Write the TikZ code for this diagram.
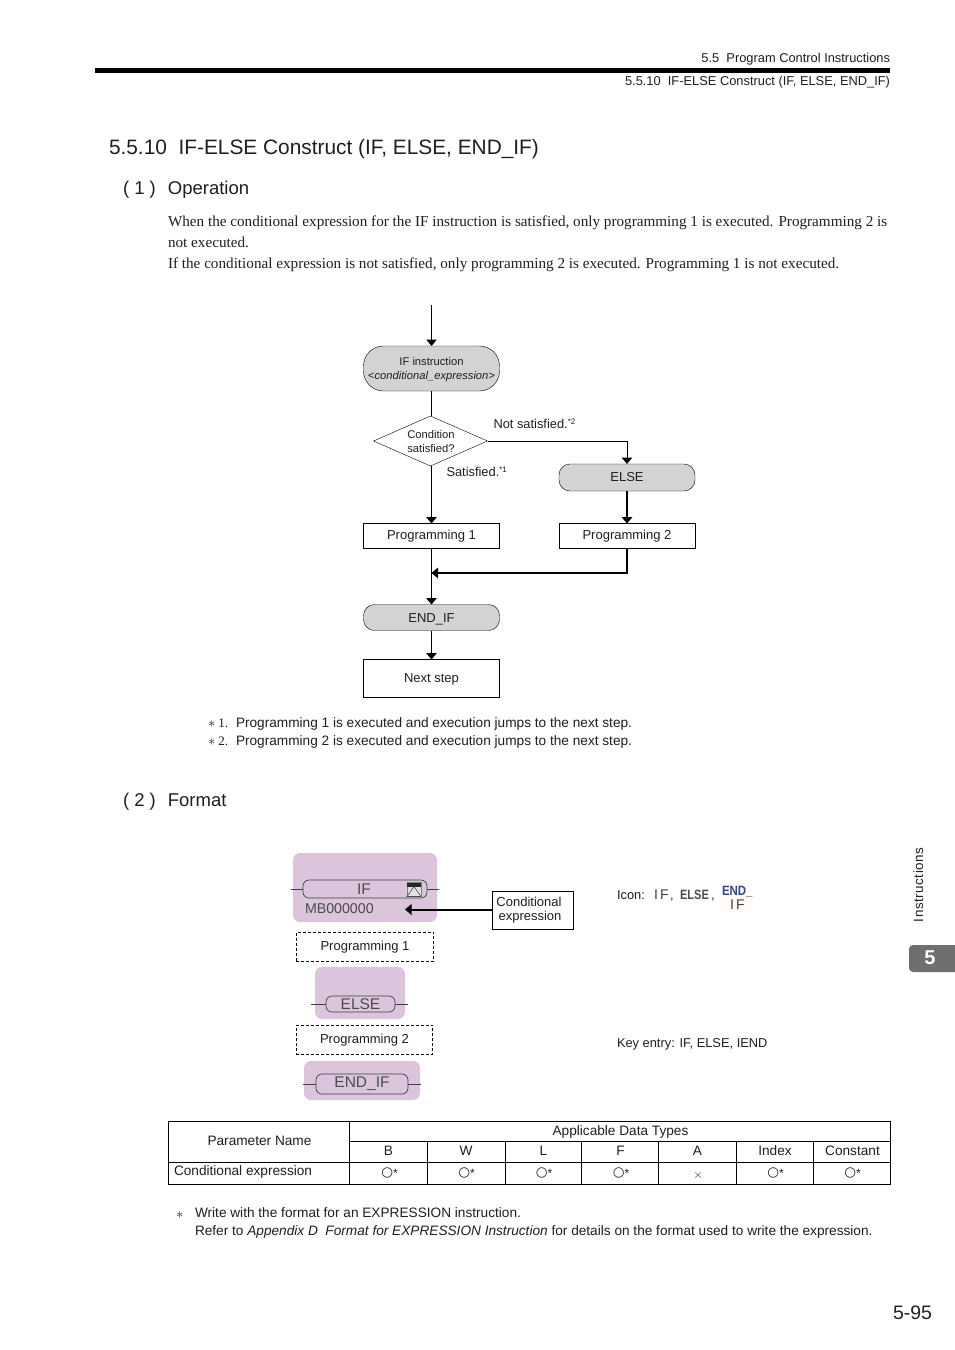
\documentclass[tikz,border=0pt]{standalone}
\usepackage{fontspec}
\setmainfont{Liberation Sans}
\newfontfamily\bodyserif{Liberation Serif}
\newfontfamily\symfont{DejaVu Sans}
\usetikzlibrary{arrows.meta, positioning, shapes.geometric}
\definecolor{pillgray}{HTML}{D2D3D5}
\definecolor{ladderpurple}{HTML}{DAC5DC}
\definecolor{tabgray}{HTML}{6E6F71}
\definecolor{iconblue}{HTML}{33478F}
\newcommand{\fsize}[1]{\fontsize{#1}{#1}\selectfont}
\newcommand{\okmark}{{\symfont\fsize{13.5}○}{\fsize{12}\raisebox{-1pt}{*}}}
\tikzset{%
	every node/.style={inner sep=0pt, outer sep=0pt, text=black!88},
	txt/.style={anchor=base west, font=\fsize{12.85}},
	note/.style={anchor=base west, font=\fsize{13.65}},
	flow/.style={font=\fsize{13}, align=center},
	pill/.style={flow, draw, fill=pillgray, rounded corners=#1},
	flowbox/.style={flow, draw, fill=white},
	dashbox/.style={flow, draw, dashed, dash pattern=on 3pt off 2pt, line width=0.6pt},
	ladder/.style={fill=ladderpurple, rounded corners=7pt},
	rung/.style={draw=black!75, fill=ladderpurple, rounded corners=6pt, line width=0.7pt, font=\fsize{15.5}, text=black!70},
	wire/.style={draw=black!75, line width=0.7pt},
	arr/.style={draw=black, line width=1pt, -{Triangle[length=6.5pt,width=10.5pt]}},
	arrbold/.style={draw=black, line width=2pt, -{Triangle[length=6.5pt,width=10.5pt]}},
	cell/.style={font=\fsize{13.65}, anchor=base},
}

\begin{document}
\begin{tikzpicture}[x=1pt, y=-1pt]
	\useasboundingbox (0,0) rectangle (954,1350);
	\fill[white] (0,0) rectangle (954,1350);

	% Page head
	\node[txt, anchor=base east] (headA) at (890,62) {5.5\ \ Program Control Instructions};
	\fill[black] (95,68) rectangle (890,73);
	\node[txt, anchor=base east] (headB) at (890,85) {5.5.10\ \ IF-ELSE Construct (IF, ELSE, END\_IF)};
	\node[txt, font=\fsize{20.85}] (title) at (109,154) {5.5.10\ \ IF-ELSE Construct (IF, ELSE, END\_IF)};
	\node[txt, font=\fsize{18.5}] (opHead) at (123,194) {( 1 )\hspace{12pt}Operation};
	\node[txt, font=\bodyserif\fsize{15.18}] (paraA) at (168,226) {When the conditional expression for the IF instruction is satisfied, only programming 1 is executed. Programming 2 is};
	\node[txt, font=\bodyserif\fsize{15.18}] (paraB) at (168,247) {not executed.};
	\node[txt, font=\bodyserif\fsize{15.18}] (paraC) at (168,268) {If the conditional expression is not satisfied, only programming 2 is executed. Programming 1 is not executed.};

	% Flow chart
	\coordinate (start) at (431.5,305);
	\node[pill=20pt, minimum width=136pt, minimum height=45pt, font=\fsize{11.2}, text depth=0pt] (ifNode) at (431.5,368.5) {IF instruction\\[3pt]\textit{<conditional\_expression>}};
	\node[diamond, draw, aspect=2.3, fill=white, minimum width=114pt, minimum height=50pt] (cond) at (430.5,441) {};
	\node[font=\fsize{11.2}, align=center] (condText) at (431,441.5) {Condition\\[3pt]satisfied?};
	\node[pill=11pt, minimum width=136pt, minimum height=27pt] (elseNode) at (627,477.5) {ELSE};
	\node[flowbox, minimum width=136pt, minimum height=25pt] (progA) at (431.5,536) {Programming 1};
	\node[flowbox, minimum width=136pt, minimum height=25pt] (progB) at (627,536) {Programming 2};
	\node[pill=11pt, minimum width=136pt, minimum height=26pt, text depth=0pt, text height=10pt] (endNode) at (431.5,617.5) {END\_IF};
	\node[flowbox, minimum width=136pt, minimum height=38pt, text depth=1.5pt] (nextNode) at (431.5,678.5) {Next step};
	\coordinate (merge) at (431.5,573);
	\draw[arr] (start) -- (ifNode.north);
	\draw[draw=black, line width=1pt] (ifNode.south) -- (ifNode.south |- cond.north);
	\draw[arr] (ifNode.south |- cond.south) -- (progA.north);
	\draw[arr] (cond.east) -| (elseNode.north);
	\draw[arrbold] (elseNode) -- (progB);
	\draw[arrbold] (progB.south) |- (merge);
	\draw[arr] (progA.south) -- (endNode.north);
	\draw[arr] (endNode.south) -- (nextNode.north);
	\node[txt] (notSat) at (493.5,428) {Not satisfied.\raisebox{3.5pt}{\fsize{8}*2}};
	\node[txt] (sat) at (446.5,476) {Satisfied.\raisebox{3.5pt}{\fsize{8}*1}};

	% Notes
	\node[txt, font=\bodyserif\fsize{13}] (noteA) at (208,727) {{\fsize{15}$*$} 1.};
	\node[note] (noteAtext) at (236,727) {Programming 1 is executed and execution jumps to the next step.};
	\node[txt, font=\bodyserif\fsize{13}] (noteB) at (208,745) {{\fsize{15}$*$} 2.};
	\node[note] (noteBtext) at (236,745) {Programming 2 is executed and execution jumps to the next step.};
	\node[txt, font=\fsize{18.5}] (fmtHead) at (123,806) {( 2 )\hspace{12pt}Format};

	% Ladder blocks
	\node[ladder, minimum width=144pt, minimum height=69pt] (ifBlock) at (365,887.5) {};
	\draw[wire] (291,889) -- (439,889);
	\node[rung, minimum width=124pt, minimum height=18pt] (ifRung) at (365,889) {\hspace{-2pt}IF};
	\node[txt, font=\fsize{14.2}, text=black!70] (mbLabel) at (305,913) {MB000000};
	\node[fill=black!12, draw=black!50, minimum size=14pt] (ifIcon) at (414,889.5) {};
	\fill[black!85] (ifIcon.north west) rectangle ([yshift=-4pt]ifIcon.north east);
	\draw[black!70, line width=0.6pt] (ifIcon.south west) -- ([yshift=-4pt]ifIcon.north) -- (ifIcon.south east) -- cycle;
	\node[flowbox, minimum width=81pt, minimum height=38pt, draw] (condBox) at (532.5,910) {Conditional\hspace*{7pt}\\[1pt]expression\hspace*{5pt}};
	\coordinate (mbArrow) at (405,909.5);
	\draw[arrbold] (condBox.west |- mbArrow) -- (mbArrow);
	\node[dashbox, minimum width=137.5pt, minimum height=29.5pt] (ladProgA) at (365,947) {Programming 1};
	\node[ladder, minimum width=90pt, minimum height=52pt] (elseBlock) at (360,993) {};
	\draw[wire] (311,1004) -- (408,1004);
	\node[rung, minimum width=69pt, minimum height=16pt] (elseRung) at (360.5,1004) {ELSE};
	\node[dashbox, minimum width=136.5pt, minimum height=29.5pt] (ladProgB) at (364.5,1040) {Programming 2};
	\node[ladder, minimum width=116pt, minimum height=39pt] (endBlock) at (362,1080.5) {};
	\draw[wire] (303,1084) -- (421,1084);
	\node[rung, minimum width=92pt, minimum height=20pt] (endRung) at (362,1084) {END\_IF};

	% Icons and key entry
	\node[txt] (iconLabel) at (617,899) {Icon:};
	\node[txt, font=\fsize{14}, text=black!75] (iconIf) at (654,899) {I\,F};
	\node[txt] (commaA) at (670,899) {,};
	\node[txt, font=\fsize{13.5}\bfseries, text=black!70, xscale=0.82] (iconElse) at (680,899) {ELSE};
	\node[txt] (commaB) at (711,899) {,};
	\fill[orange!3] (721,881) rectangle (752,911);
	\node[txt, font=\fsize{13.5}\bfseries, text=iconblue, xscale=0.85] (iconEnd) at (722,895) {END\_};
	\node[txt, font=\fsize{14}, text=black!75] (iconEndB) at (730,909) {I\,F};
	\node[txt] (keyEntry) at (617,1047) {Key entry: IF, ELSE, IEND};

	% Table
	\draw[line width=1pt] (168,1121) rectangle (890.5,1184.5);
	\draw[line width=1pt] (349,1121) -- (349,1184.5);
	\draw[line width=1pt] (349,1141.5) -- (890.5,1141.5);
	\draw[line width=1pt] (168,1162.5) -- (890.5,1162.5);
	\foreach \xpos in {427,505,581,658,736,813}
		\draw[line width=1pt] (\xpos,1141.5) -- (\xpos,1184.5);
	\node[cell] (parHead) at (259.5,1145) {Parameter Name};
	\node[cell] (typeHead) at (620.5,1135) {Applicable Data Types};
	\node[cell, anchor=base west] (parName) at (174,1175) {Conditional expression};
	\foreach \xpos/\typename in {388.5/B, 466/W, 543.5/L, 620.5/F, 697.5/A, 775/Index, 852.5/Constant}
		\node[cell] (head\typename) at (\xpos,1155) {\typename};
	\foreach \xpos/\typename in {389.5/B, 466.5/W, 544/L, 621/F, 775.5/Index, 852.5/Constant}
		\node[cell] (mark\typename) at (\xpos,1176.5) {\okmark};
	\node[cell, font=\fsize{13}] (markA) at (698,1178) {$\times$};

	% Footnote
	\node[txt, font=\bodyserif\fsize{15}] (footStar) at (176,1218) {$*$};
	\node[note] (footA) at (195,1217) {Write with the format for an EXPRESSION instruction.};
	\node[note] (footB) at (195,1235) {Refer to \textit{Appendix D\ \ Format for EXPRESSION Instruction} for details on the format used to write the expression.};

	% Side tab and page number
	\node[txt, rotate=90, font=\fsize{13.4}\addfontfeatures{LetterSpace=4}, anchor=base west] (sideText) at (923,922) {Instructions};
	\fill[tabgray, rounded corners=4pt] (909,945) rectangle (970,972);
	\node[font=\fsize{20}\bfseries, text=white] (tabNum) at (930,958) {5};
	\node[txt, font=\fsize{19.5}] (pageNum) at (893,1319) {5-95};
\end{tikzpicture}
\end{document}
